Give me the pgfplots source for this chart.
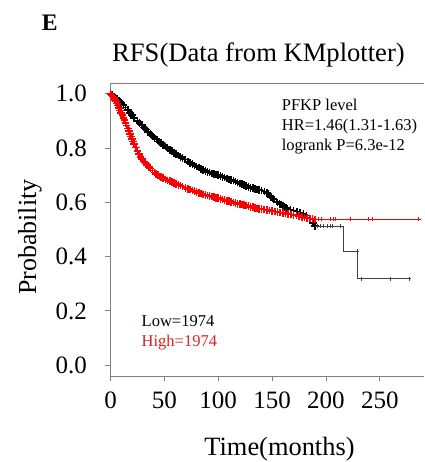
\documentclass[border=0pt]{standalone}
\usepackage{fontspec}
\setmainfont{Liberation Serif}
\usepackage{pgfplots}
\usepackage{pgfplotstable}
\pgfplotsset{compat=1.18}
\definecolor{axgray}{HTML}{808080}
\definecolor{kmred}{HTML}{FF0000}
\definecolor{txtred}{HTML}{E02020}

% Low PFKP (black), dense part: time, survival
\pgfplotstableread{
t s
0 1.0
1.5 0.995
3 0.99
4.5 0.985
6 0.98
8 0.974
10 0.967
12 0.958
14 0.95
16 0.94
18 0.93
20 0.921
22 0.912
25 0.90
27 0.893
29 0.885
31 0.876
33 0.868
35 0.860
37 0.852
39 0.845
41 0.838
43 0.831
45 0.825
47 0.818
49 0.812
51 0.806
53 0.80
55 0.794
57 0.789
59 0.783
61 0.778
63 0.773
65 0.768
67 0.763
69 0.758
72 0.75
74 0.745
76 0.741
78 0.736
80 0.732
82 0.728
84 0.724
86 0.720
88 0.716
90 0.713
92 0.71
94 0.707
96 0.705
98 0.702
100 0.70
102 0.697
104 0.694
106 0.691
108 0.688
110 0.685
112 0.683
114 0.680
116 0.677
118 0.673
120 0.670
122 0.667
124 0.664
126 0.660
128 0.657
130 0.654
132 0.652
134 0.650
136 0.648
138 0.646
140 0.644
143 0.640
145 0.635
146 0.632
148 0.625
149 0.620
151 0.614
152 0.610
154 0.603
155 0.600
157 0.595
158 0.592
160 0.587
161 0.584
163 0.580
164 0.578
167 0.574
170 0.570
173 0.566
176 0.561
179 0.557
182 0.552
185 0.540
188 0.525
190 0.512
}\lowdense
\pgfplotstableread{
t s
190 0.512
216 0.42
229 0.319
277 0.319
}\lowtail
\pgfplotstableread{
t s
191.5 0.512
194.6 0.512
197.7 0.512
200.8 0.512
204 0.512
205.5 0.512
213 0.512
228.7 0.42
233 0.319
260 0.319
277 0.319
}\lowcens
% High PFKP (red)
\pgfplotstableread{
t s
0 1.0
1 0.995
2 0.99
3 0.984
4 0.978
5 0.972
6 0.965
7 0.957
8 0.948
9 0.939
10 0.93
11 0.921
12 0.912
13 0.903
14 0.893
15 0.883
16 0.872
17 0.862
18 0.852
19 0.843
20 0.834
21 0.825
22 0.815
23.5 0.802
25 0.79
26.5 0.779
28 0.768
29.5 0.759
31 0.75
32.5 0.744
34 0.738
35.5 0.731
37 0.725
39 0.717
41 0.71
42.5 0.705
44 0.70
45.5 0.696
47 0.693
49 0.689
51 0.685
53 0.681
55 0.678
57 0.674
59 0.671
61 0.668
63 0.665
65 0.662
67 0.659
69.5 0.654
72 0.650
74 0.647
76 0.644
78 0.641
80 0.638
82 0.635
84 0.632
86 0.629
88 0.627
90 0.625
92 0.623
94 0.621
96 0.619
98 0.617
100 0.615
102 0.613
104 0.611
106 0.608
108 0.606
110 0.604
112 0.602
114 0.599
116 0.597
118 0.595
120 0.594
122 0.592
124 0.590
126 0.588
128 0.586
130 0.584
132 0.582
134 0.580
136 0.578
138 0.576
140 0.575
142.5 0.573
145 0.572
147.5 0.570
150 0.568
152.5 0.566
155 0.564
157.5 0.562
160 0.561
162.5 0.559
165 0.557
167.5 0.555
170 0.553
172.5 0.551
175 0.549
177.5 0.546
180 0.544
182.5 0.542
185 0.540
187.5 0.538
190 0.537
}\highdense
\pgfplotstableread{
t s
190 0.537
286 0.537
}\hightail
\pgfplotstableread{
t s
193 0.537
196 0.537
204 0.537
206.5 0.537
208.6 0.537
222.5 0.537
239.6 0.537
242.7 0.537
286 0.537
}\highcens

\begin{document}
\begin{tikzpicture}
\useasboundingbox (0,0) rectangle (424pt,462pt);
\begin{axis}[
  at={(110.5pt,86pt)}, anchor=south west,
  scale only axis, width=313.5pt, height=293pt,
  xmin=0, xmax=291, ymin=-0.04, ymax=1.04,
  axis x line=box, axis y line=left,
  axis line style={draw=axgray, line width=0.8pt, -},
  xtick={0,50,100,150,200,250},
  ytick={0,0.2,0.4,0.6,0.8,1.0},
  xtick pos=bottom, ytick pos=left,
  tick align=outside,
  major tick length=5pt,
  tick style={draw=axgray, line width=0.8pt},
  /pgf/number format/assume math mode=true,
  yticklabel style={font=\fontsize{25}{25}\selectfont, anchor=east, inner sep=0pt, xshift=-18.5pt,
    /pgf/number format/.cd, fixed, fixed zerofill, precision=1},
  xticklabel style={font=\fontsize{25}{25}\selectfont, anchor=base, inner sep=0pt, yshift=-27pt},
  title={RFS(Data from KMplotter)},
  title style={font=\fontsize{26.6}{26.6}\selectfont, at={(rel axis cs:0.472,1)}, anchor=base, inner sep=0pt, yshift=15pt},
  xlabel={Time(months)},
  xlabel style={font=\fontsize{26.4}{26.4}\selectfont, at={(rel axis cs:0.539,0)}, anchor=base, inner sep=0pt, yshift=-79pt},
  ylabel={Probability},
  ylabel style={font=\fontsize{26}{26}\selectfont, at={(rel axis cs:-0.2376,0.474)}, anchor=base, inner sep=0pt},
  clip=false,
]
\addplot[const plot, black, line width=0.8pt, forget plot] table[x=t,y=s]{\lowdense};
\addplot[only marks, mark=+, mark size=3.8pt, black, line width=1.6pt, forget plot] table[x=t,y=s]{\lowdense};
\addplot[const plot, black!75, line width=0.7pt, forget plot] table[x=t,y=s]{\lowtail};
\addplot[only marks, mark=+, mark size=2pt, black!75, line width=0.6pt, forget plot] table[x=t,y=s]{\lowcens};
\addplot[const plot, kmred, line width=0.8pt, forget plot] table[x=t,y=s]{\highdense};
\addplot[only marks, mark=+, mark size=3.8pt, kmred, line width=1.6pt, forget plot] table[x=t,y=s]{\highdense};
\addplot[const plot, kmred, line width=0.6pt, forget plot] table[x=t,y=s]{\hightail};
\addplot[only marks, mark=+, mark size=2pt, kmred, line width=0.6pt, forget plot] table[x=t,y=s]{\highcens};

\node[anchor=base west, inner sep=0pt, font=\fontsize{16.5}{16.5}\selectfont] at (rel axis cs:0.546,0.9055) {PFKP level};
\node[anchor=base west, inner sep=0pt, font=\fontsize{16.5}{16.5}\selectfont] at (rel axis cs:0.546,0.837) {HR=1.46(1.31-1.63)};
\node[anchor=base west, inner sep=0pt, font=\fontsize{16.5}{16.5}\selectfont] at (rel axis cs:0.546,0.769) {logrank P=6.3e-12};
\node[anchor=base west, inner sep=0pt, font=\fontsize{16.5}{16.5}\selectfont] at (rel axis cs:0.099,0.1706) {Low=1974};
\node[anchor=base west, inner sep=0pt, font=\fontsize{16.5}{16.5}\selectfont, text=txtred] at (rel axis cs:0.099,0.100) {High=1974};
\node[anchor=base west, inner sep=0pt, font=\fontsize{23.7}{23.7}\selectfont\bfseries] at (rel axis cs:-0.2195,1.1785) {E};
\end{axis}
\end{tikzpicture}
\end{document}
